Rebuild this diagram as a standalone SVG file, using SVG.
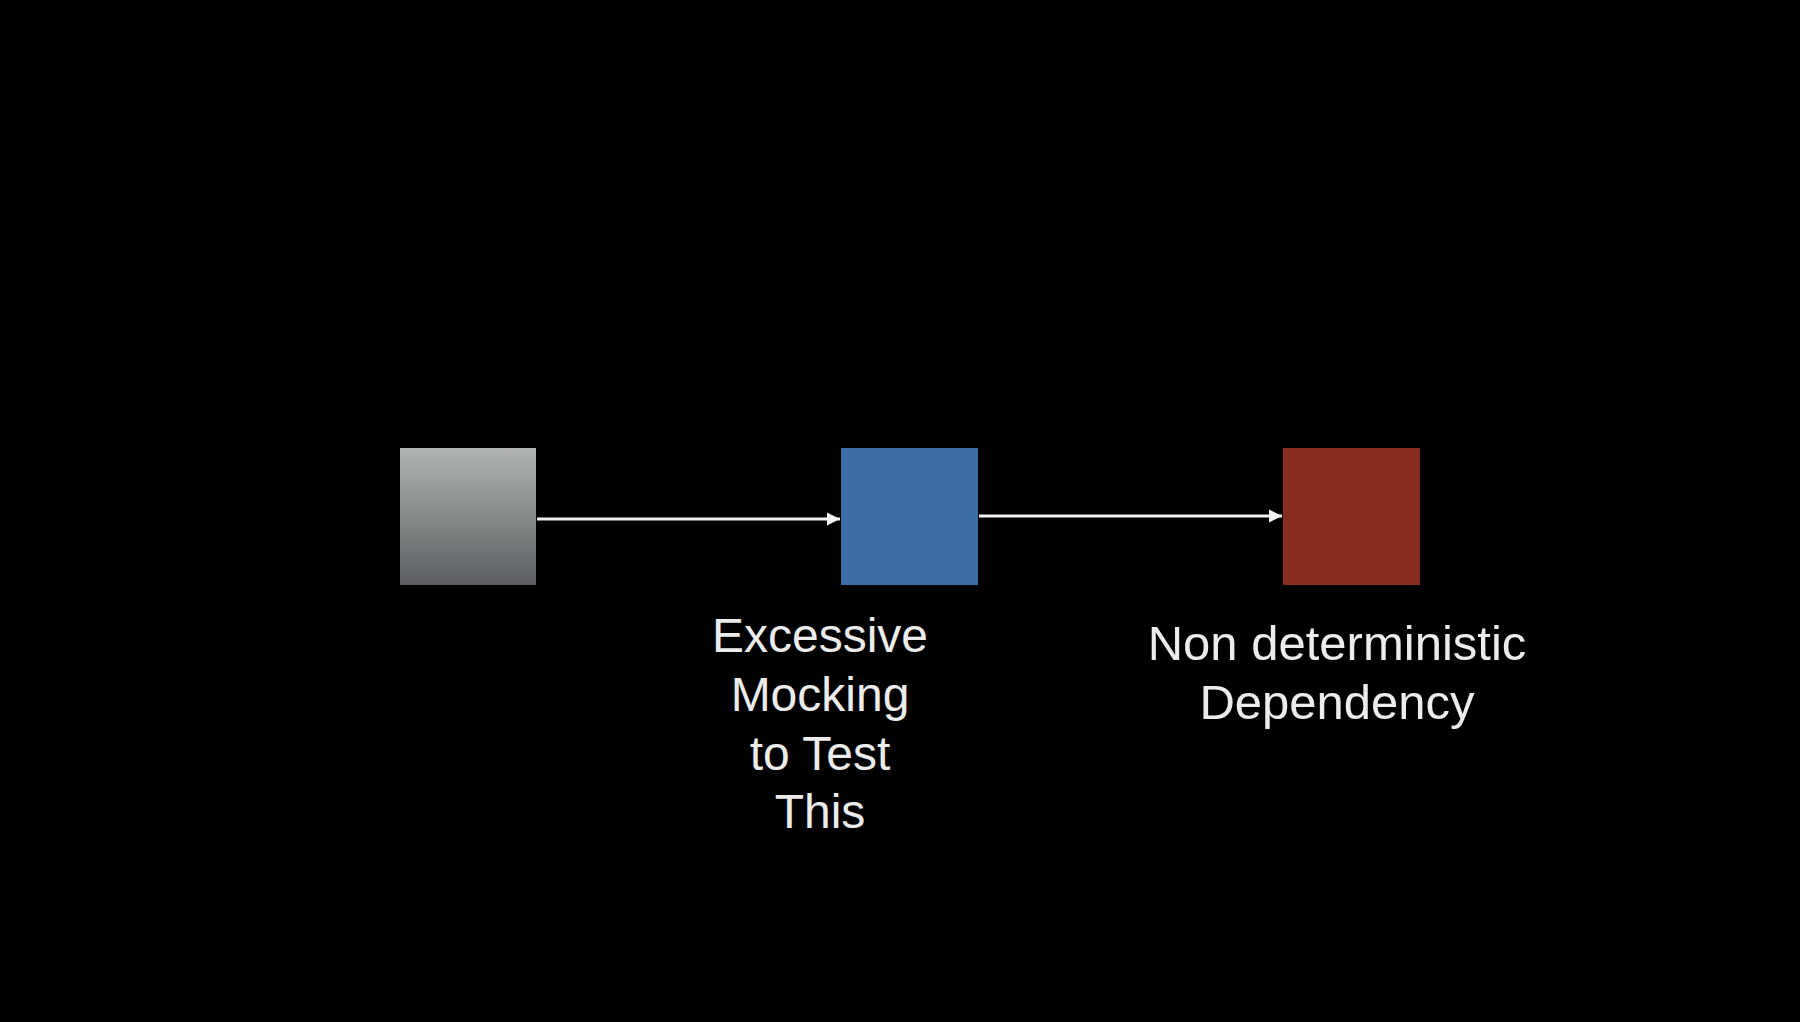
<svg xmlns="http://www.w3.org/2000/svg" width="1800" height="1022" viewBox="0 0 1800 1022">
<style>
.lbl{font-family:"Liberation Sans",Arial,sans-serif;font-size:48px;fill:#ececec;text-anchor:middle}
.conn{stroke:#f2f2f2;stroke-width:3;fill:none}
</style>
<defs>
<linearGradient id="gray" x1="0" y1="0" x2="0" y2="1">
<stop offset="0" stop-color="#b1b4b3"/>
<stop offset="1" stop-color="#5c5e61"/>
</linearGradient>
<marker id="arr" viewBox="0 0 10 10" refX="10" refY="5" markerWidth="4.5" markerHeight="4.5" orient="auto" markerUnits="strokeWidth">
<path d="M0,0 L10,5 L0,10 z" fill="#f2f2f2"/>
</marker>
</defs>
<rect width="1800" height="1022" fill="#000"/>
<g id="connectors">
<line class="conn" x1="537" y1="519" x2="840" y2="519" marker-end="url(#arr)"/>
<line class="conn" x1="979" y1="516" x2="1282" y2="516" marker-end="url(#arr)"/>
</g>
<g id="node-gray">
<rect x="400" y="448" width="136" height="137" fill="url(#gray)"/>
</g>
<g id="node-blue">
<rect x="841" y="448" width="137" height="137" fill="#3a6da4"/>
<text class="lbl" x="820" y="652">Excessive</text>
<text class="lbl" x="820" y="711">Mocking</text>
<text class="lbl" x="820" y="770">to Test</text>
<text class="lbl" x="820" y="828">This</text>
</g>
<g id="node-red">
<rect x="1283" y="448" width="137" height="137" fill="#8a2d1e"/>
<text class="lbl" x="1337" y="660" style="font-size:49px">Non deterministic</text>
<text class="lbl" x="1337" y="719" style="font-size:49px">Dependency</text>
</g>
</svg>
